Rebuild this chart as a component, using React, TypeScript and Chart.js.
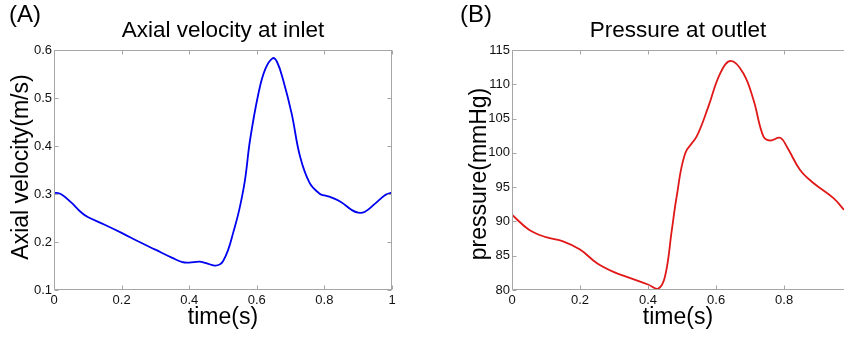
import React, { useEffect, useRef } from "react";
import { Chart, registerables } from "chart.js";

Chart.register(...registerables);

// ---- Data ----
const velocityTime = [0, 0.02, 0.05, 0.08, 0.1, 0.15, 0.2, 0.25, 0.3, 0.35, 0.38, 0.4, 0.43, 0.45, 0.475, 0.49, 0.5, 0.515, 0.53, 0.548, 0.565, 0.58, 0.605, 0.625, 0.647, 0.66, 0.678, 0.703, 0.728, 0.757, 0.787, 0.8, 0.82, 0.85, 0.88, 0.9, 0.92, 0.95, 0.98, 1.0];
const velocityValues = [0.303, 0.3, 0.283, 0.262, 0.252, 0.236, 0.219, 0.201, 0.184, 0.167, 0.158, 0.157, 0.159, 0.156, 0.151, 0.153, 0.16, 0.183, 0.219, 0.267, 0.329, 0.4125, 0.51, 0.56, 0.583, 0.575, 0.5375, 0.468, 0.378, 0.322, 0.3, 0.297, 0.293, 0.283, 0.267, 0.261, 0.263, 0.28, 0.298, 0.303];

const pressureTime = [0, 0.05, 0.1, 0.15, 0.2, 0.25, 0.3, 0.35, 0.4, 0.43, 0.45, 0.47, 0.484, 0.509, 0.543, 0.577, 0.612, 0.643, 0.68, 0.71, 0.739, 0.759, 0.788, 0.808, 0.847, 0.886, 0.945, 0.976];
const pressureValues = [90.97, 88.8, 87.7, 87.1, 85.9, 83.9, 82.6, 81.7, 80.8, 80.2, 82.0, 88.8, 93.6, 99.9, 102.4, 106.7, 111.6, 113.4, 111.6, 107.7, 102.4, 101.8, 102.2, 100.9, 97.5, 95.6, 93.4, 91.7];

const velocityXTicks = [0, 0.2, 0.4, 0.6, 0.8, 1];
const velocityYTicks = [0.1, 0.2, 0.3, 0.4, 0.5, 0.6];
const pressureXTicks = [0, 0.2, 0.4, 0.6, 0.8];
const pressureYTicks = [80, 85, 90, 95, 100, 105, 110, 115];

const FONT = '"Liberation Sans", Arial, Helvetica, sans-serif';

type PanelCfg = {
  letter: string;
  title: string;
  xLabel: string;
  yLabel: string;
  time: number[];
  values: number[];
  color: string;
  xMin: number;
  xMax: number;
  yMin: number;
  yMax: number;
  xTicks: number[];
  yTicks: number[];
  yAxisWidth: number;
  padRight: number;
  rightBorder: boolean;
  letterX: number;
  yLabelX: number;
  yLabelCenter: number;
  width: number;
};

function decorPlugin(cfg: PanelCfg) {
  return {
    id: "matlabDecor",
    afterDraw(chart: any) {
      const ctx = chart.ctx as CanvasRenderingContext2D;
      const a = chart.chartArea;
      const xs = chart.scales.x;
      const ys = chart.scales.y;
      ctx.save();
      ctx.strokeStyle = "#a6a6a6";
      ctx.lineWidth = 1;
      const L = a.left + 0.5;
      const R = a.right - 0.5;
      const T = a.top + 0.5;
      const B = a.bottom - 0.5;
      ctx.beginPath();
      ctx.moveTo(L, T);
      ctx.lineTo(L, B);
      ctx.lineTo(a.right, B);
      ctx.moveTo(L, T);
      ctx.lineTo(a.right, T);
      if (cfg.rightBorder) {
        ctx.moveTo(R, T);
        ctx.lineTo(R, B);
      }
      const tl = 4;
      for (const v of cfg.xTicks) {
        const px = Math.round(xs.getPixelForValue(v)) + 0.5;
        ctx.moveTo(px, B);
        ctx.lineTo(px, B - tl);
        ctx.moveTo(px, T);
        ctx.lineTo(px, T + tl);
      }
      for (const v of cfg.yTicks) {
        const py = Math.round(ys.getPixelForValue(v)) + 0.5;
        ctx.moveTo(L, py);
        ctx.lineTo(L + tl, py);
        if (cfg.rightBorder) {
          ctx.moveTo(R, py);
          ctx.lineTo(R - tl, py);
        }
      }
      ctx.stroke();

      ctx.fillStyle = "#000";
      ctx.textBaseline = "alphabetic";
      ctx.font = `24px ${FONT}`;
      ctx.textAlign = "left";
      ctx.fillText(cfg.letter, cfg.letterX, 22);
      ctx.font = `22.5px ${FONT}`;
      ctx.textAlign = "center";
      const cx = (a.left + a.right) / 2;
      ctx.fillText(cfg.title, cx, 36.5);
      ctx.font = `23px ${FONT}`;
      ctx.fillText(cfg.xLabel, cx, 323.5);
      ctx.save();
      ctx.translate(cfg.yLabelX, cfg.yLabelCenter);
      ctx.rotate(-Math.PI / 2);
      ctx.fillText(cfg.yLabel, 0, 0);
      ctx.restore();
      ctx.restore();
    },
  };
}

function Panel({ cfg, left }: { cfg: PanelCfg; left: number }) {
  const ref = useRef<HTMLCanvasElement | null>(null);
  useEffect(() => {
    if (!ref.current) return;
    const chart = new Chart(ref.current, {
      type: "line",
      data: {
        datasets: [
          {
            data: cfg.time.map((t, i) => ({ x: t, y: cfg.values[i] })),
            borderColor: cfg.color,
            borderWidth: 1.8,
            pointRadius: 0,
            fill: false,
            tension: 0.4,
          } as any,
        ],
      },
      options: {
        responsive: false,
        animation: false,
        devicePixelRatio: 1,
        layout: { padding: { top: 50, right: cfg.padRight, left: 0, bottom: 0 } },
        plugins: {
          legend: { display: false },
          tooltip: { enabled: false },
          title: { display: false },
        },
        scales: {
          x: {
            type: "linear",
            min: cfg.xMin,
            max: cfg.xMax,
            afterBuildTicks: (s: any) => {
              s.ticks = cfg.xTicks.map((v) => ({ value: v }));
            },
            afterFit: (s: any) => {
              s.height = 48;
            },
            grid: { display: false, drawTicks: false },
            border: { display: false },
            ticks: {
              font: { family: FONT, size: 13 },
              color: "#111",
              padding: 3,
              maxRotation: 0,
              autoSkip: false,
              includeBounds: false,
              callback: (v: any) => String(v),
            },
          },
          y: {
            type: "linear",
            min: cfg.yMin,
            max: cfg.yMax,
            afterBuildTicks: (s: any) => {
              s.ticks = cfg.yTicks.map((v) => ({ value: v }));
            },
            afterFit: (s: any) => {
              s.width = cfg.yAxisWidth;
            },
            grid: { display: false, drawTicks: false },
            border: { display: false },
            ticks: {
              font: { family: FONT, size: 13 },
              color: "#111",
              padding: 2,
              autoSkip: false,
              callback: (v: any) => String(v),
            },
          },
        },
      } as any,
      plugins: [decorPlugin(cfg)],
    });
    return () => chart.destroy();
  }, [cfg]);
  return (
    <canvas
      ref={ref}
      width={cfg.width}
      height={338}
      style={{ position: "absolute", left, top: 0, width: cfg.width, height: 338 }}
    />
  );
}

const velocityCfg: PanelCfg = {
  letter: "(A)",
  title: "Axial velocity at inlet",
  xLabel: "time(s)",
  yLabel: "Axial velocity(m/s)",
  time: velocityTime,
  values: velocityValues,
  color: "#0000f0",
  xMin: 0,
  xMax: 1,
  yMin: 0.1,
  yMax: 0.6,
  xTicks: velocityXTicks,
  yTicks: velocityYTicks,
  yAxisWidth: 54,
  padRight: 28,
  rightBorder: true,
  letterX: 9,
  yLabelX: 28,
  yLabelCenter: 167,
  width: 420,
};

const pressureCfg: PanelCfg = {
  letter: "(B)",
  title: "Pressure at outlet",
  xLabel: "time(s)",
  yLabel: "pressure(mmHg)",
  time: pressureTime,
  values: pressureValues,
  color: "#e01818",
  xMin: 0,
  xMax: 0.976,
  yMin: 80,
  yMax: 115,
  xTicks: pressureXTicks,
  yTicks: pressureYTicks,
  yAxisWidth: 92,
  padRight: 0,
  rightBorder: false,
  letterX: 40,
  yLabelX: 66,
  yLabelCenter: 174,
  width: 424,
};

export default function App() {
  return (
    <div
      style={{
        position: "fixed",
        left: 0,
        top: 0,
        width: 844,
        height: 338,
        background: "#fff",
        overflow: "hidden",
      }}
    >
      <Panel cfg={velocityCfg} left={0} />
      <Panel cfg={pressureCfg} left={420} />
    </div>
  );
}
